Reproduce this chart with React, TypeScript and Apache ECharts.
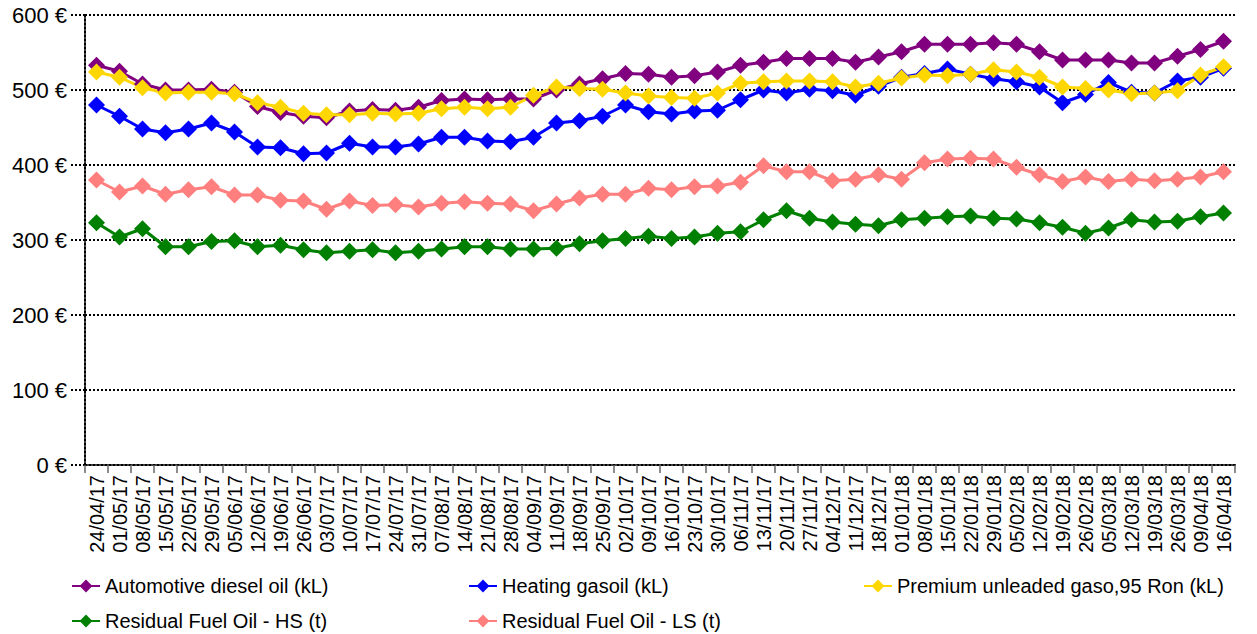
import React, { useEffect, useRef } from "react";
import * as echarts from "echarts";

const categories = [
  "24/04/17","01/05/17","08/05/17","15/05/17","22/05/17","29/05/17","05/06/17","12/06/17","19/06/17","26/06/17",
  "03/07/17","10/07/17","17/07/17","24/07/17","31/07/17","07/08/17","14/08/17","21/08/17","28/08/17","04/09/17",
  "11/09/17","18/09/17","25/09/17","02/10/17","09/10/17","16/10/17","23/10/17","30/10/17","06/11/17","13/11/17",
  "20/11/17","27/11/17","04/12/17","11/12/17","18/12/17","01/01/18","08/01/18","15/01/18","22/01/18","29/01/18",
  "05/02/18","12/02/18","19/02/18","26/02/18","05/03/18","12/03/18","19/03/18","26/03/18","09/04/18","16/04/18",
];

const diesel = [
  533, 525, 508, 500, 500, 501, 497, 478, 470, 465,
  463, 472, 474, 473, 477, 486, 488, 487, 488, 488,
  500, 508, 515, 522, 521, 517, 519, 524, 533, 537,
  542, 542, 542, 537, 544, 551, 561, 561, 561, 563,
  561, 551, 540, 540, 540, 536, 536, 545, 554, 565,
];

const heating = [
  480, 465, 448, 443, 448, 456, 444, 424, 423, 415,
  416, 429, 424, 424, 428, 437, 437, 432, 431, 437,
  456, 459, 465, 480, 471, 468, 472, 473, 487, 500,
  496, 501, 499, 493, 505, 517, 522, 528, 521, 515,
  511, 504, 483, 494, 510, 497, 496, 512, 517, 529,
];

const premium = [
  524, 517, 503, 496, 497, 497, 495, 483, 477, 469,
  467, 467, 469, 468, 469, 475, 477, 475, 477, 493,
  504, 502, 501, 496, 492, 490, 489, 496, 509, 511,
  512, 512, 511, 504, 509, 516, 520, 519, 521, 527,
  524, 517, 504, 502, 500, 495, 496, 499, 520, 531,
];

const fuelHS = [
  323, 304, 315, 291, 291, 298, 299, 291, 293, 287,
  283, 285, 287, 283, 285, 288, 291, 291, 288, 288,
  289, 295, 299, 302, 305, 302, 304, 309, 311, 327,
  339, 329, 324, 321, 319, 327, 329, 331, 332, 329,
  328, 323, 317, 309, 316, 327, 324, 325, 331, 336,
];

const fuelLS = [
  380, 364, 372, 361, 367, 371, 360, 360, 353, 352,
  341, 352, 346, 347, 344, 349, 351, 349, 348, 339,
  348, 356, 361, 361, 369, 367, 371, 372, 377, 399,
  391, 391, 379, 381, 387, 381, 403, 408, 409, 408,
  397, 387, 378, 384, 378, 381, 379, 381, 384, 391,
];

const yTicks = [0, 100, 200, 300, 400, 500, 600];

const seriesDefs = [
  { name: "Automotive diesel oil (kL)", data: diesel, color: "#800080" },
  { name: "Heating gasoil (kL)", data: heating, color: "#0000FF" },
  { name: "Premium unleaded gaso,95 Ron (kL)", data: premium, color: "#FFD700" },
  { name: "Residual Fuel Oil - HS (t)", data: fuelHS, color: "#008000" },
  { name: "Residual Fuel Oil - LS (t)", data: fuelLS, color: "#FF7F7F" },
];

const legendPos = [
  { left: 66, top: 571 },
  { left: 463, top: 571 },
  { left: 858, top: 571 },
  { left: 66, top: 606 },
  { left: 463, top: 606 },
];

export default function App() {
  const ref = useRef<HTMLDivElement>(null);
  useEffect(() => {
    if (!ref.current) return;
    const chart = echarts.init(ref.current, undefined, { renderer: "svg" });
    const font = "Liberation Sans, Arial, sans-serif";
    chart.setOption({
      animation: false,
      textStyle: { fontFamily: font },
      grid: { left: 85, right: 22, top: 15, bottom: 169, containLabel: false },
      legend: seriesDefs.map((s, i) => ({
        data: [s.name],
        left: legendPos[i].left,
        top: legendPos[i].top,
        itemWidth: 28,
        itemHeight: 16,
        itemGap: 10,
        textStyle: { fontSize: 20, color: "#000", fontFamily: font },
      })),
      xAxis: {
        type: "category",
        data: categories,
        boundaryGap: true,
        axisLine: { show: true, lineStyle: { color: "#000", width: 2, type: "dotted" } },
        axisTick: { show: true, interval: 0, length: 8, lineStyle: { color: "#666", width: 1.5 } },
        axisLabel: { interval: 0, rotate: 90, fontSize: 20, color: "#000", margin: 10, fontFamily: font },
        splitLine: { show: false },
      },
      yAxis: {
        type: "value",
        min: yTicks[0],
        max: yTicks[yTicks.length - 1],
        interval: 100,
        axisLine: { show: true, lineStyle: { color: "#000", width: 2, type: "dotted" } },
        axisTick: { show: true, length: 15, lineStyle: { color: "#000", width: 2, type: "dotted" } },
        axisLabel: { formatter: "{value} €", fontSize: 22, color: "#000", margin: 18, fontFamily: font },
        splitLine: { show: true, lineStyle: { color: "#000", width: 2, type: "dotted" } },
      },
      series: seriesDefs.map((s) => ({
        name: s.name,
        type: "line",
        data: s.data,
        symbol: "diamond",
        symbolSize: 17,
        showSymbol: true,
        lineStyle: { color: s.color, width: 3 },
        itemStyle: { color: s.color },
        emphasis: { disabled: true },
      })),
    });
    return () => chart.dispose();
  }, []);
  return <div ref={ref} style={{ width: 1257, height: 634, position: "absolute", left: 0, top: 0 }} />;
}
